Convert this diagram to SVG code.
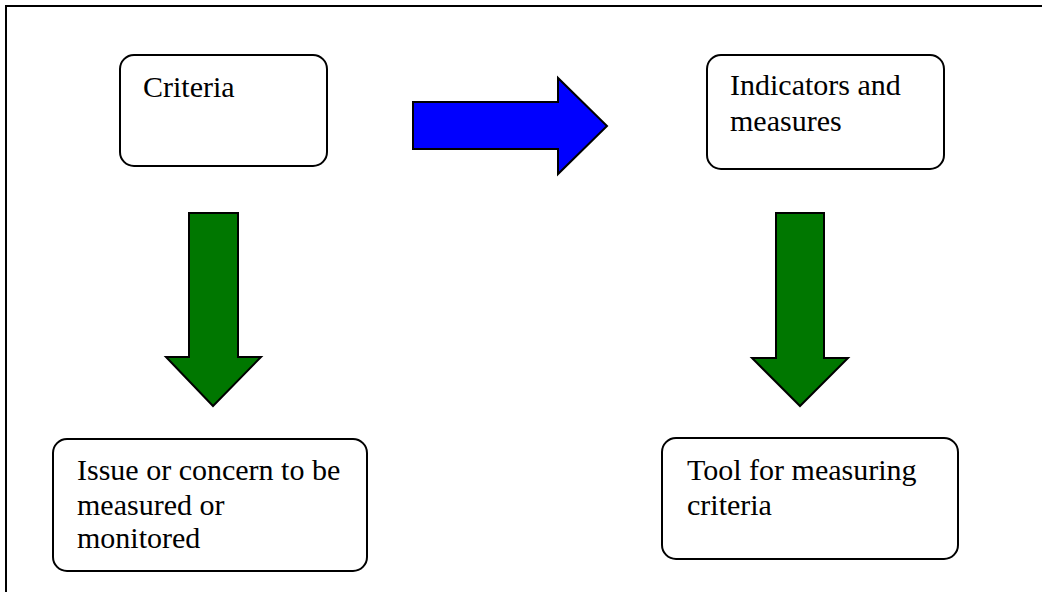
<svg xmlns="http://www.w3.org/2000/svg" width="1042" height="592" viewBox="0 0 1042 592">
<style>
.box{fill:#fff;stroke:#000;stroke-width:2}
.lbl{font-family:"Liberation Serif","Times New Roman",serif;font-size:30px;fill:#000}
.down{fill:#007700;stroke:#000;stroke-width:2;stroke-linejoin:miter}
.right{fill:#0000ff;stroke:#000;stroke-width:2;stroke-linejoin:miter}
</style>
<rect width="1042" height="592" fill="#fff"/>
<rect x="6" y="6" width="1100" height="700" fill="none" stroke="#000" stroke-width="2"/>
<g id="connectors">
<polygon class="right" points="413,102 558,102 558,78 607,126 558,174 558,149 413,149"/>
<polygon class="down" points="189,213 238,213 238,357 261,357 213,406 166,357 189,357"/>
<polygon class="down" points="776,213 824,213 824,358 848,358 800,406 752,358 776,358"/>
</g>
<g id="criteria">
<rect class="box" x="120" y="55" width="207" height="111" rx="14"/>
<text class="lbl" x="143" y="97">Criteria</text>
</g>
<g id="indicators">
<rect class="box" x="707" y="55" width="237" height="114" rx="14"/>
<text class="lbl" x="730" y="95">Indicators and</text>
<text class="lbl" x="730" y="131">measures</text>
</g>
<g id="issue">
<rect class="box" x="53" y="439" width="314" height="132" rx="14"/>
<text class="lbl" x="77" y="480">Issue or concern to be</text>
<text class="lbl" x="77" y="515">measured or</text>
<text class="lbl" x="77" y="548">monitored</text>
</g>
<g id="tool">
<rect class="box" x="662" y="438" width="296" height="121" rx="14"/>
<text class="lbl" x="687" y="480">Tool for measuring</text>
<text class="lbl" x="687" y="515">criteria</text>
</g>
</svg>
